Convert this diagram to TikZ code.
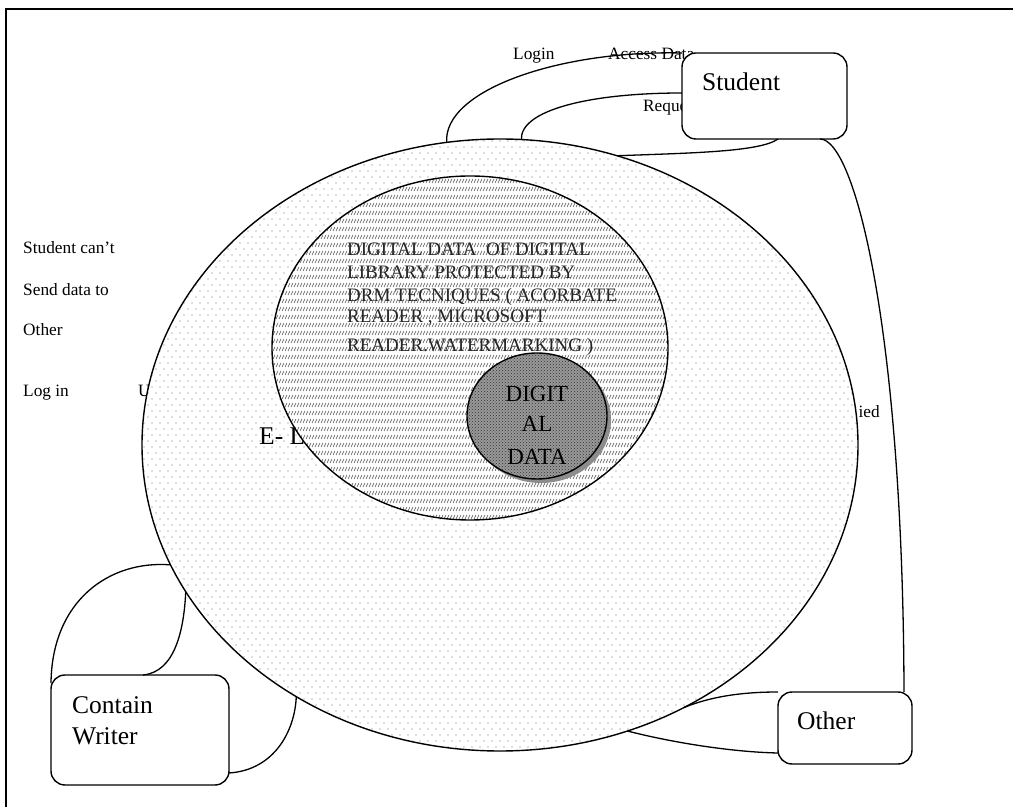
\documentclass[tikz,border=0pt]{standalone}
\usepackage{fontspec}
\setmainfont{Liberation Serif}
\usetikzlibrary{shapes.geometric,patterns}

% staggered grey dots for the outer ring
\pgfdeclarepatternformonly{sparsedots}{\pgfqpoint{-1pt}{-1pt}}{\pgfqpoint{9pt}{13pt}}{\pgfqpoint{8pt}{12pt}}{%
  \pgfpathcircle{\pgfqpoint{0pt}{0pt}}{0.55pt}%
  \pgfpathcircle{\pgfqpoint{4pt}{6pt}}{0.55pt}%
  \pgfusepath{fill}}
% rows of short slanted strokes for the protected-data ring
\pgfdeclarepatternformonly{slashrows}{\pgfqpoint{-0.5pt}{-0.5pt}}{\pgfqpoint{3.5pt}{8.5pt}}{\pgfqpoint{3pt}{8pt}}{%
  \pgfsetlinewidth{0.55pt}%
  \pgfpathmoveto{\pgfqpoint{0pt}{0pt}}%
  \pgfpathlineto{\pgfqpoint{2pt}{4pt}}%
  \pgfusepath{stroke}}

\begin{document}
\begin{tikzpicture}[x=1pt,y=1pt,
  lbl/.style={font=\fontsize{17.3}{20}\selectfont, inner sep=0, anchor=base west},
  boxlbl/.style={font=\fontsize{25.5}{30}\selectfont, inner sep=0, anchor=base west},
  drmtxt/.style={font=\fontsize{19}{22}\selectfont, inner sep=0, anchor=base west, text=black!85},
  coretxt/.style={font=\fontsize{23}{28}\selectfont, inner sep=0, anchor=base},
  roundbox/.style={draw, line width=1.4pt, rounded corners=14pt, fill=white, inner sep=0, outer sep=0},
  ring/.style={ellipse, draw, line width=1.4pt, inner sep=0, outer sep=0},
  link/.style={line width=1.3pt}]
\useasboundingbox (0,0) rectangle (1013,807);

% page frame
\draw[line width=2pt] (6,0) -- (6,798) -- (1013,798);

% side notes
\node[lbl] (n1) at (23,553) {Student can’t};
\node[lbl] (n2) at (23,511) {Send data to};
\node[lbl] (n3) at (23,471) {Other};
\node[lbl] (n4) at (23,410) {Log in};
\node[lbl] (n5) at (138,410) {U};
\node[lbl, anchor=base east] (n6) at (880,389) {ied};

% outer ring
\node[ring, minimum width=716pt, minimum height=612pt,
      preaction={fill=white}, pattern=sparsedots, pattern color=black!55] (outer) at (500,362) {};
\node[boxlbl] (elib) at (259,362) {E- L};

% protected data ring
\node[ring, minimum width=396pt, minimum height=344pt,
      preaction={fill=white}, pattern=slashrows, pattern color=black!70] (middle) at (470,459) {};
\node[drmtxt] (d1) at (347,551) {DIGITAL DATA\ \ OF DIGITAL};
\node[drmtxt] (d2) at (347,528) {LIBRARY PROTECTED BY};
\node[drmtxt] (d3) at (347,505) {DRM TECNIQUES ( ACORBATE};
\node[drmtxt] (d4) at (347,484) {READER , MICROSOFT};
\node[drmtxt] (d5) at (347,455) {READER.WATERMARKING )};

% digital data core with its shadow
\node[ellipse, fill=black!45, minimum width=140pt, minimum height=126pt, inner sep=0] (coreshadow) at (541,387) {};
\node[ring, minimum width=140pt, minimum height=126pt,
      preaction={fill=black!40}, pattern=crosshatch dots, pattern color=black!80] (core) at (537,391) {};
\node[coretxt] (c1) at (537,405) {DIGIT};
\node[coretxt] (c2) at (537,375) {AL};
\node[coretxt] (c3) at (537,342) {DATA};

% connector labels near the student
\node[lbl] (login) at (513,747) {Login};
\node[lbl] (access) at (608,747) {Access Data};
\node[lbl] (request) at (643,695) {Request};

% connectors
\draw[link] (outer.100.9) .. controls (443,717) and (560,757) .. (682,754);
\draw[link] (outer.86.3) .. controls (520,697) and (590,714) .. (682,714);

% boxes
\node[roundbox, minimum width=165pt, minimum height=86pt] (student) at (764.5,711) {};
\node[boxlbl] (studentlbl) at (702,716) {Student};
\node[roundbox, minimum width=178pt, minimum height=110pt] (writer) at (140,77) {};
\node[boxlbl] (writerlbl1) at (72,94) {Contain};
\node[boxlbl] (writerlbl2) at (72,63) {Writer};
\node[roundbox, minimum width=134pt, minimum height=72pt] (other) at (845,79) {};
\node[boxlbl] (otherlbl) at (797,78) {Other};

\draw[link] ([xshift=13.5pt]student.south) .. controls (760,655) and (690,654) .. (outer.68.7);
\draw[link] ([xshift=-27pt]student.south east) .. controls (855,668) and (903,477) .. ([xshift=-8pt]other.north east);
\draw[link] (other.north west) .. controls (740,115) and (710,110) .. (outer.-55.1);
\draw[link] ([yshift=11pt]other.south west) .. controls (730,55) and (670,65) .. (outer.-66.5);
\draw[link] ([yshift=-8pt]writer.north west) .. controls (52,207) and (110,247) .. (outer.-160.7);
\draw[link] (outer.-155.9) .. controls (184,177) and (175,135) .. ([xshift=3pt]writer.north);
\draw[link] ([yshift=12pt]writer.south east) .. controls (275,37) and (295,77) .. (outer.-129.5);
\end{tikzpicture}
\end{document}
